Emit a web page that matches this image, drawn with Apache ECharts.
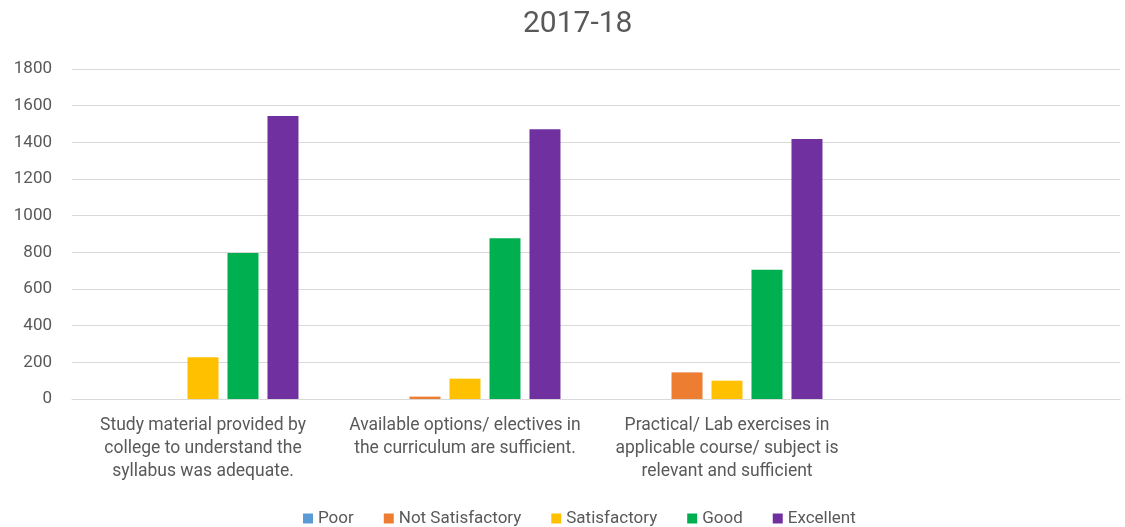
<!DOCTYPE html>
<html>
<head>
<meta charset="utf-8">
<script src="https://cdn.jsdelivr.net/npm/echarts@6/dist/echarts.min.js"></script>
<style>
  html, body { margin: 0; padding: 0; background: #fff; }
  #main { width: 1125px; height: 527px; }
</style>
</head>
<body>
<div id="main"></div>
<script>
// 类目（第四个为空）
var categories = [
    'Study material provided by\ncollege to understand the\nsyllabus was adequate.',
    'Available options/ electives in\nthe curriculum are sufficient.',
    'Practical/ Lab exercises in\napplicable course/ subject is\nrelevant and sufficient',
    ''
];
var seriesNames = ['Poor', 'Not Satisfactory', 'Satisfactory', 'Good', 'Excellent'];
var poor = [0, 0, 0, null];
var notSatisfactory = [0, 13, 145, null];
var satisfactory = [228, 111, 100, null];
var good = [796, 877, 705, null];
var excellent = [1543, 1471, 1418, null];
var colors = ['#5B9BD5', '#ED7D31', '#FFC000', '#00B050', '#7030A0'];

var myChart = echarts.init(document.getElementById('main'));
var font = 'Roboto, sans-serif';

var values = [poor, notSatisfactory, satisfactory, good, excellent];
var series = seriesNames.map(function (name, i) {
    return {
        name: name,
        type: 'bar',
        data: values[i],
        barWidth: 31,
        barGap: '29%',
        itemStyle: { color: colors[i] }
    };
});

var option = {
    title: {
        text: '2017-18',
        left: 518,
        top: 4,
        textStyle: { fontFamily: font, fontSize: 30, fontWeight: 'normal', color: '#595959' }
    },
    legend: {
        data: seriesNames,
        top: 505,
        left: 298,
        icon: 'rect',
        itemWidth: 10,
        itemHeight: 10,
        itemGap: 30,
        textStyle: { fontFamily: font, fontSize: 17, color: '#595959' }
    },
    grid: { left: 72, right: 5, top: 69, bottom: 128, containLabel: false },
    xAxis: {
        type: 'category',
        data: categories,
        axisLine: { lineStyle: { color: '#d9d9d9' } },
        axisTick: { show: false },
        axisLabel: {
            interval: 0,
            margin: 15,
            fontFamily: font,
            fontSize: 17.5,
            lineHeight: 23,
            color: '#595959'
        }
    },
    yAxis: {
        type: 'value',
        min: 0,
        max: 1800,
        interval: 200,
        axisLine: { show: false },
        axisTick: { show: false },
        axisLabel: {
            fontFamily: font,
            fontSize: 17,
            color: '#595959',
            margin: 20,
            formatter: function (v) { return String(v); }
        },
        splitLine: { lineStyle: { color: '#d9d9d9' } }
    },
    series: series
};

myChart.setOption(option);
</script>
</body>
</html>
